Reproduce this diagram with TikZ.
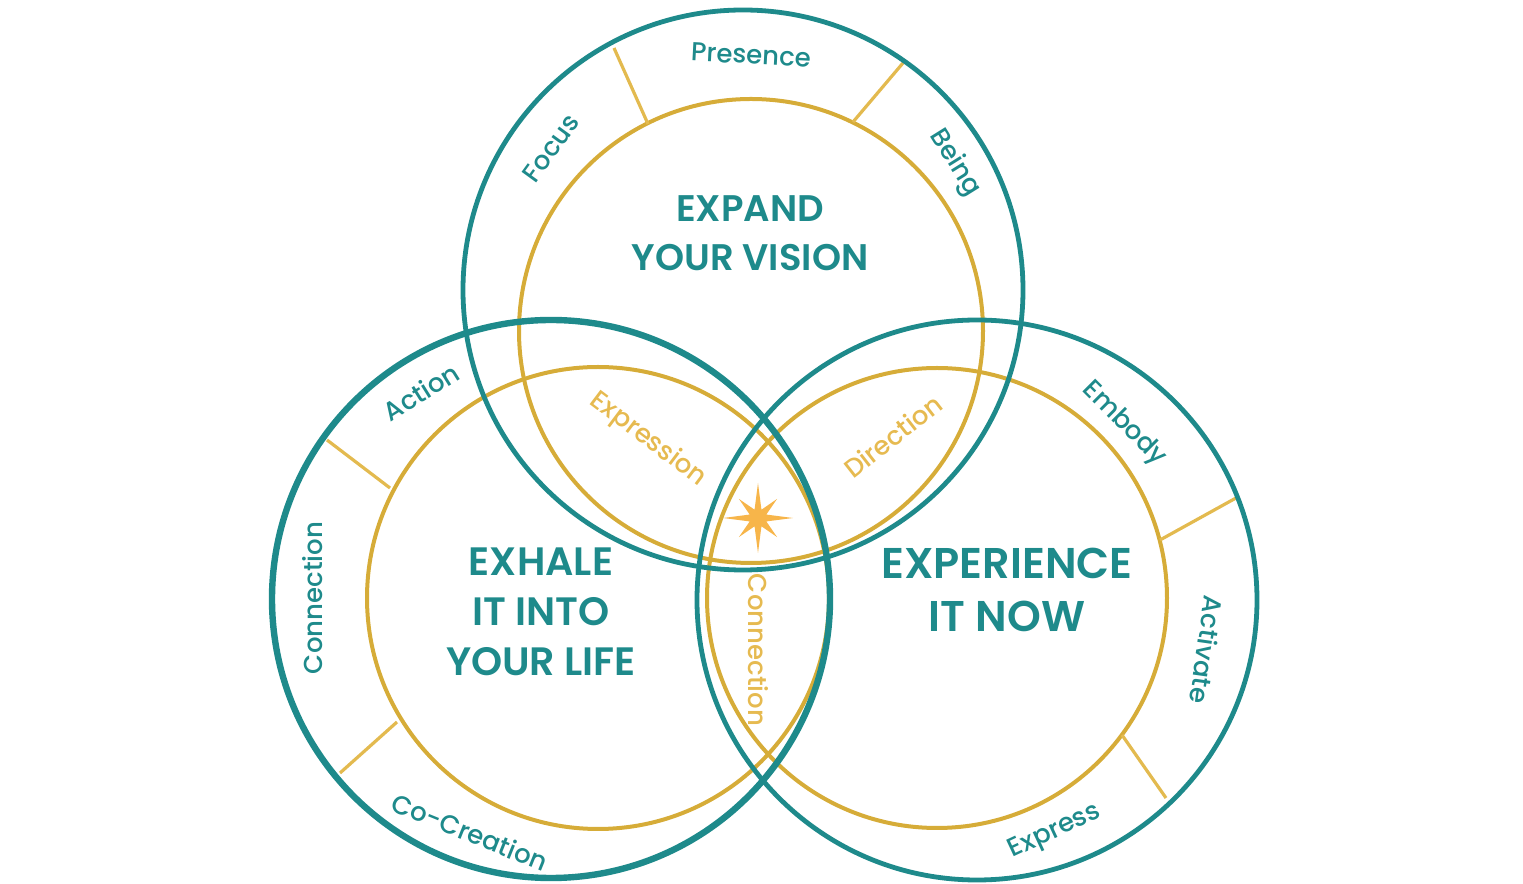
\documentclass[tikz,border=0pt]{standalone}
\usepackage{fontspec}
\setmainfont{Poppins}
\newfontfamily\titlefont{Poppins SemiBold}
\newfontfamily\labelfont{Poppins Medium}
\definecolor{ringteal}{HTML}{1E8A8B}
\definecolor{ringgold}{HTML}{D6AC38}
\definecolor{spokegold}{HTML}{E3BA4F}
\definecolor{lensgold}{HTML}{E6BA50}
\definecolor{stargold}{HTML}{F7B54A}
\begin{document}
\begin{tikzpicture}[x=0.5pt,y=0.5pt,
		outerring/.style={draw=ringteal,line width=2.4pt},
		innerring/.style={draw=ringgold,line width=2pt},
		spoke/.style={draw=spokegold,line width=1.6pt},
		ringlabel/.style={text=ringteal,font=\labelfont\fontsize{13}{15}\selectfont,inner sep=0pt},
		lenslabel/.style={text=lensgold,font=\labelfont\fontsize{13}{15}\selectfont,inner sep=0pt},
		title/.style={text=ringteal,font=\titlefont\fontsize{18.5}{24.5}\selectfont,align=center,inner sep=0pt}]
		\useasboundingbox (0,0) rectangle (1523,884);
		% centres
		\coordinate (T) at (743,594);
		\coordinate (Ti) at (751,553);
		\coordinate (L) at (551,285);
		\coordinate (Li) at (598,286);
		\coordinate (R) at (977,284);
		\coordinate (Ri) at (937,286);
		
		% gold circles
		\draw[innerring] (Ti) circle[radius=232];
		\draw[innerring] (Li) circle[radius=231];
		\draw[innerring] (Ri) circle[radius=230];
		
		% spokes
		\draw[spoke] (614,836) -- (648,760);
		\draw[spoke] (903,821) -- (853,762);
		\draw[spoke] (327,444) -- (390,396);
		\draw[spoke] (340,111) -- (397,162);
		\draw[spoke] (1236,386) -- (1160,344);
		\draw[spoke] (1166,86) -- (1122,149);
		
		% teal circles
		\draw[outerring] (T) circle[radius=280];
		\draw[outerring] (R) circle[radius=280];
		\draw[outerring,line width=3.2pt] (L) circle[radius=279];
		
		% star
		\coordinate (star) at (758,366);
		\fill[stargold,shift={(star)}] (0:35)
		\foreach \a/\r in {22.5/9,45/27,67.5/9,90/35,112.5/9,135/27,157.5/9,180/35,202.5/9,225/27,247.5/9,270/35,292.5/9,315/27,337.5/9}
		{ -- (\a:\r) } -- cycle;
		
		% titles
		\node[title] (vision) at (750,651) {EXPAND\\YOUR VISION};
		\node[title,font=\titlefont\fontsize{19.8}{25}\selectfont] (exhale) at (541,272) {EXHALE\\IT INTO\\YOUR LIFE};
		\node[title,font=\titlefont\fontsize{21.5}{26.5}\selectfont] (experience) at (1007,294) {EXPERIENCE\\IT NOW};
		
		% ring labels
		\node[ringlabel,rotate=54] (focus) at (551,736) {Focus};
		\node[ringlabel,rotate=-3] (presence) at (751,829) {Presence};
		\node[ringlabel,rotate=-58] (being) at (955,721) {Being};
		\node[ringlabel,rotate=32] (action) at (421,492) {Action};
		\node[ringlabel,rotate=90] (connectionL) at (313,286) {Connection};
		\node[ringlabel,rotate=-22] (cocreation) at (470,52) {Co-Creation};
		\node[ringlabel,rotate=-45] (embody) at (1124,460) {Embody};
		\node[ringlabel,rotate=-98] (activate) at (1207,234) {Activate};
		\node[ringlabel,rotate=25] (express) at (1055,52) {Express};
		
		% lens labels
		\node[lenslabel,rotate=-37] (expression) at (648,444) {Expression};
		\node[lenslabel,rotate=38] (direction) at (893,448) {Direction};
		\node[lenslabel,rotate=-90] (connectionM) at (758,234) {Connection};
\end{tikzpicture}
\end{document}
